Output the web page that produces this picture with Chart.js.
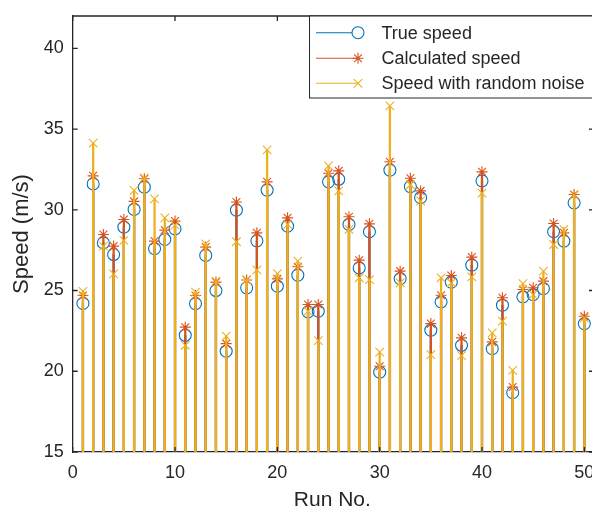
<!DOCTYPE html>
<html>
<head>
<meta charset="utf-8">
<script src="https://cdn.jsdelivr.net/npm/chart.js@4"></script>
<style>
  html, body { margin: 0; padding: 0; background: #ffffff; overflow: hidden; }
  #wrap { width: 592px; height: 514px; }
</style>
</head>
<body>
<div id="wrap"><canvas id="chart" width="592" height="514"></canvas></div>
<script>
// Run numbers (x axis)
var runs = [1, 2, 3, 4, 5, 6, 7, 8, 9, 10,
    11, 12, 13, 14, 15, 16, 17, 18, 19, 20,
    21, 22, 23, 24, 25, 26, 27, 28, 29, 30,
    31, 32, 33, 34, 35, 36, 37, 38, 39, 40,
    41, 42, 43, 44, 45, 46, 47, 48, 49, 50];

var trueSpeed = [24.2, 31.6, 27.95, 27.23, 28.93, 30.02, 31.4, 27.6, 28.16, 28.82,
    22.23, 24.19, 27.17, 25.0, 21.24, 29.98, 25.17, 28.08, 31.22, 25.27,
    28.99, 25.95, 23.68, 23.72, 31.73, 31.89, 29.09, 26.4, 28.64, 19.94,
    32.45, 25.74, 31.44, 30.75, 22.54, 24.3, 25.52, 21.61, 26.57, 31.79,
    21.4, 24.09, 18.68, 24.61, 24.75, 25.12, 28.64, 28.06, 30.43, 22.95];

var calcSpeed = [24.69, 32.1, 28.47, 27.75, 29.4, 30.52, 31.92, 28.06, 28.74, 29.3,
    22.73, 24.69, 27.69, 25.52, 21.71, 30.48, 25.65, 28.57, 31.73, 25.72,
    29.5, 26.47, 24.13, 24.13, 32.26, 32.41, 29.57, 26.88, 29.13, 20.31,
    32.97, 26.2, 31.95, 31.17, 22.95, 24.71, 25.93, 22.07, 27.07, 32.35,
    21.82, 24.55, 19.02, 25.06, 25.17, 25.58, 29.15, 28.57, 30.95, 23.41];

var noisySpeed = [24.95, 34.13, 27.75, 26.03, 28.1, 31.2, 31.98, 30.68, 29.5, 29.05,
    21.61, 24.9, 27.89, 25.58, 22.17, 28.02, 25.68, 26.28, 33.71, 26.05,
    29.09, 26.82, 23.72, 21.9, 32.72, 31.17, 28.78, 25.79, 25.68, 21.18,
    36.44, 25.48, 31.55, 30.55, 21.03, 25.79, 25.48, 20.97, 25.85, 31.03,
    22.38, 23.1, 20.05, 25.43, 24.75, 26.2, 27.85, 28.78, 30.91, 23.3];

var xTicks = [0, 10, 20, 30, 40, 50];
var yTicks = [15, 20, 25, 30, 35, 40];

var seriesNames = ['True speed', 'Calculated speed', 'Speed with random noise'];

var BLUE = '#0072BD';
var ORANGE = '#D95319';
var YELLOW = '#EDB120';
var AXIS = '#262626';
var FONT = '"Liberation Sans", Arial, sans-serif';

function pts(values) {
    return runs.map(function(r, i) { return {x: r, y: values[i]}; });
}

function stems(values, color, order) {
    return {
        type: 'bar',
        data: pts(values),
        backgroundColor: color,
        borderWidth: 0,
        barThickness: 1.6,
        grouped: false,
        order: order
    };
}

function markers(values, color, style, radius, order) {
    return {
        type: 'scatter',
        data: pts(values),
        showLine: false,
        pointStyle: style,
        pointRadius: radius,
        pointHoverRadius: radius,
        pointBorderColor: color,
        pointBackgroundColor: 'rgba(0,0,0,0)',
        pointBorderWidth: 1.1,
        order: order
    };
}

function noPad(s) {
    s.paddingLeft = 0;
    s.paddingRight = 0;
    s.paddingTop = 0;
    s.paddingBottom = 0;
}

// MATLAB-style box: inward ticks on all four sides, top border line, and legend.
var boxPlugin = {
    id: 'matlabBox',
    afterDraw: function(chart) {
        var ctx = chart.ctx;
        var a = chart.chartArea;
        var xs = chart.scales.x;
        var ys = chart.scales.y;
        var tl = 5;
        ctx.save();
        ctx.strokeStyle = AXIS;
        ctx.lineWidth = 1.3;
        ctx.beginPath();
        ctx.moveTo(a.left, a.top);
        ctx.lineTo(a.right, a.top);
        xTicks.forEach(function(t) {
            var px = xs.getPixelForValue(t);
            ctx.moveTo(px, a.bottom);
            ctx.lineTo(px, a.bottom - tl);
            ctx.moveTo(px, a.top);
            ctx.lineTo(px, a.top + tl);
        });
        yTicks.forEach(function(t) {
            var py = ys.getPixelForValue(t);
            ctx.moveTo(a.left, py);
            ctx.lineTo(a.left + tl, py);
            ctx.moveTo(a.right + 2, py);
            ctx.lineTo(a.right + 2 - tl, py);
        });
        ctx.stroke();

        // legend
        var lx = 309.5, ly = a.top, lw = 320, lh = 82;
        ctx.fillStyle = '#ffffff';
        ctx.fillRect(lx, ly, lw, lh);
        ctx.strokeStyle = '#262626';
        ctx.lineWidth = 1;
        ctx.strokeRect(lx, ly, lw, lh);
        var colors = [BLUE, ORANGE, YELLOW];
        var styles = ['circle', 'star', 'crossRot'];
        var radii = [6, 5.5, 6];
        var rowY = [32.7, 58.3, 83.3];
        ctx.font = '18px ' + FONT;
        ctx.textBaseline = 'middle';
        ctx.textAlign = 'left';
        for (var i = 0; i < 3; i++) {
            ctx.strokeStyle = colors[i];
            ctx.lineWidth = 1.1;
            ctx.beginPath();
            ctx.moveTo(316, rowY[i]);
            ctx.lineTo(358, rowY[i]);
            ctx.stroke();
            Chart.helpers.drawPoint(ctx, {
                pointStyle: styles[i],
                radius: radii[i],
                borderWidth: 1.1,
                rotation: 0
            }, 358, rowY[i]);
            ctx.fillStyle = AXIS;
            ctx.fillText(seriesNames[i], 381.5, rowY[i] + 1);
        }
        ctx.restore();
    }
};

var ctx = document.getElementById('chart');
new Chart(ctx, {
    type: 'scatter',
    data: {
        datasets: [
            stems(trueSpeed, BLUE, 6),
            markers(trueSpeed, BLUE, 'circle', 6, 5),
            stems(calcSpeed, ORANGE, 4),
            markers(calcSpeed, ORANGE, 'star', 5.5, 3),
            stems(noisySpeed, YELLOW, 2),
            markers(noisySpeed, YELLOW, 'crossRot', 6, 1)
        ]
    },
    options: {
        responsive: false,
        animation: false,
        devicePixelRatio: 1,
        layout: {autoPadding: false, padding: {top: 16, right: 0, left: 0, bottom: 0}},
        plugins: {legend: {display: false}, tooltip: {enabled: false}},
        scales: {
            x: {
                type: 'linear',
                min: 0,
                max: 50.75,
                offset: false,
                afterBuildTicks: function(s) {
                    s.ticks = xTicks.map(function(v) { return {value: v}; });
                },
                afterFit: function(s) { s.height = 62; noPad(s); },
                grid: {display: false, drawTicks: false},
                border: {display: true, color: AXIS, width: 1.3},
                ticks: {
                    color: AXIS,
                    font: {family: FONT, size: 18},
                    padding: 10,
                    maxRotation: 0
                },
                title: {
                    display: true,
                    text: 'Run No.',
                    color: AXIS,
                    font: {family: FONT, size: 21},
                    padding: {top: 0, bottom: 1}
                }
            },
            y: {
                type: 'linear',
                min: 15,
                max: 42,
                afterBuildTicks: function(s) {
                    s.ticks = yTicks.map(function(v) { return {value: v}; });
                },
                afterFit: function(s) { s.width = 72.7; noPad(s); },
                grid: {display: false, drawTicks: false},
                border: {display: true, color: AXIS, width: 1.3},
                ticks: {
                    color: AXIS,
                    font: {family: FONT, size: 18},
                    padding: 9
                },
                title: {
                    display: true,
                    text: 'Speed (m/s)',
                    color: AXIS,
                    font: {family: FONT, size: 22},
                    padding: {top: 9, bottom: 0}
                }
            }
        }
    },
    plugins: [boxPlugin]
});
</script>
</body>
</html>
